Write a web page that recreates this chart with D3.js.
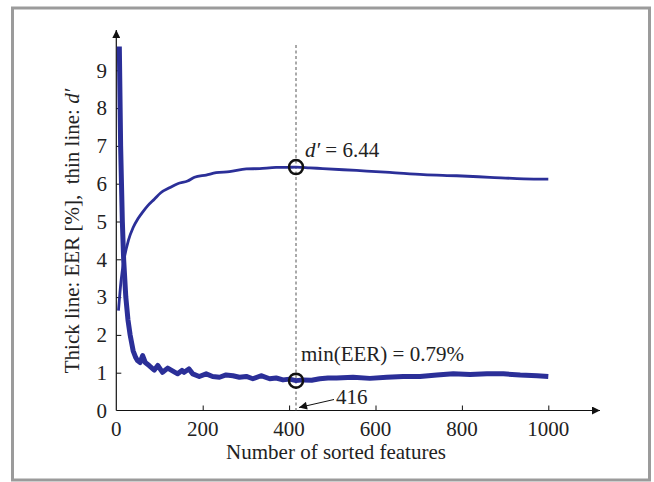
<!DOCTYPE html>
<html>
<head>
<meta charset="utf-8">
<script src="https://cdn.jsdelivr.net/npm/d3@7"></script>
<style>
  body { margin: 0; background: #fff; }
  text { font-family: "Liberation Serif", "Times New Roman", serif; fill: #222; }
</style>
</head>
<body>
<svg id="chart" width="654" height="482"></svg>
<script>
// EER curve (thick line)
const eerFeatures = [7, 10, 12, 14, 17, 22, 27, 32, 39, 45, 49, 55, 61, 67, 76, 88, 96, 107, 119, 131,
  142, 152, 157, 168, 177, 192, 208, 223, 239, 254, 270, 285, 301, 316, 335, 355, 370, 386, 401, 416,
  432, 452, 471, 490, 510, 548, 587, 626, 664, 703, 742, 780, 819, 858, 896, 935, 974, 1000];
const eerValues = [9.63, 7.0, 6.0, 5.0, 4.0, 3.0, 2.4, 2.0, 1.58, 1.4, 1.32, 1.27, 1.45, 1.27, 1.19, 1.07, 1.19, 1.01, 1.12, 1.04,
  0.97, 1.06, 1.01, 1.10, 0.97, 0.90, 0.97, 0.90, 0.88, 0.94, 0.92, 0.88, 0.90, 0.84, 0.92, 0.84, 0.86, 0.81, 0.83, 0.79,
  0.81, 0.80, 0.84, 0.86, 0.86, 0.88, 0.85, 0.88, 0.90, 0.90, 0.94, 0.97, 0.95, 0.97, 0.97, 0.94, 0.92, 0.90];

// d' curve (thin line)
const dFeatures = [5, 11, 18, 28, 39, 50, 61, 73, 88, 103, 123, 142, 165, 181, 208, 231, 262, 301, 332, 370,
  394, 416, 448, 478, 556, 633, 711, 788, 865, 943, 1000];
const dValues = [2.64, 3.43, 4.0, 4.5, 4.84, 5.07, 5.25, 5.42, 5.59, 5.76, 5.89, 6.0, 6.07, 6.17, 6.23, 6.29, 6.32, 6.39, 6.40, 6.43,
  6.43, 6.44, 6.42, 6.40, 6.35, 6.30, 6.24, 6.21, 6.17, 6.13, 6.12];

const xTicks = [0, 200, 400, 600, 800, 1000];
const yTicks = [0, 1, 2, 3, 4, 5, 6, 7, 8, 9];

// marked optimum
const bestFeature = 416;
const bestEER = 0.79;
const bestD = 6.44;

const svg = d3.select("#chart");
const blue = "#2b2f98";
const fontSize = "21px";

// outer grey frame
svg.append("rect")
  .attr("x", 12.5).attr("y", 8)
  .attr("width", 637).attr("height", 472)
  .attr("fill", "none")
  .attr("stroke", "#9b9b9b")
  .attr("stroke-width", 3);

const x = d3.scaleLinear().domain([0, 1000]).range([116.3, 548.3]);
const y = d3.scaleLinear().domain([0, 9]).range([410.5, 70.3]);

// arrow markers
const defs = svg.append("defs");
defs.append("marker")
  .attr("id", "arrow")
  .attr("viewBox", "0 0 10 10")
  .attr("refX", 10).attr("refY", 5)
  .attr("markerWidth", 10).attr("markerHeight", 8)
  .attr("markerUnits", "userSpaceOnUse")
  .attr("orient", "auto")
  .append("path")
  .attr("d", "M0,0L10,5L0,10Z")
  .attr("fill", "#111");

// axes lines
svg.append("line")
  .attr("x1", x(0)).attr("y1", y(0))
  .attr("x2", 600).attr("y2", y(0))
  .attr("stroke", "#111").attr("stroke-width", 1.2)
  .attr("marker-end", "url(#arrow)");
svg.append("line")
  .attr("x1", x(0)).attr("y1", y(0))
  .attr("x2", x(0)).attr("y2", 30)
  .attr("stroke", "#111").attr("stroke-width", 1.2)
  .attr("marker-end", "url(#arrow)");

// x ticks and labels
const xAxis = svg.append("g").attr("transform", `translate(0,${y(0)})`)
  .call(d3.axisTop(x).tickValues(xTicks).tickSize(5).tickFormat(""));
xAxis.select(".domain").remove();
xAxis.selectAll(".tick line").attr("stroke", "#111").filter((d) => d === 0).remove();

svg.append("g")
  .selectAll("text")
  .data(xTicks)
  .join("text")
  .attr("x", (d) => x(d))
  .attr("y", 436)
  .attr("text-anchor", "middle")
  .style("font-size", fontSize)
  .text((d) => d);

// y ticks and labels
const yAxis = svg.append("g").attr("transform", `translate(${x(0)},0)`)
  .call(d3.axisRight(y).tickValues(yTicks).tickSize(5).tickFormat(""));
yAxis.select(".domain").remove();
yAxis.selectAll(".tick line").attr("stroke", "#111").filter((d) => d === 0).remove();

svg.append("g")
  .selectAll("text")
  .data(yTicks)
  .join("text")
  .attr("x", 107)
  .attr("y", (d) => y(d))
  .attr("dy", "0.35em")
  .attr("text-anchor", "end")
  .style("font-size", fontSize)
  .text((d) => d);

// axis titles
svg.append("text")
  .attr("x", 336)
  .attr("y", 459)
  .attr("text-anchor", "middle")
  .style("font-size", fontSize)
  .text("Number of sorted features");

const yTitle = svg.append("text")
  .attr("transform", "translate(79,231) rotate(-90)")
  .attr("text-anchor", "middle")
  .style("font-size", fontSize);
yTitle.append("tspan").text("Thick line: EER [%],\u00a0 thin line: ");
yTitle.append("tspan").style("font-style", "italic").text("d\u2032");

// dashed marker line
svg.append("line")
  .attr("x1", x(bestFeature)).attr("x2", x(bestFeature))
  .attr("y1", 45).attr("y2", y(0))
  .attr("stroke", "#555")
  .attr("stroke-width", 1)
  .attr("stroke-dasharray", "3,2.5");

// curves
const lineD = d3.line()
  .curve(d3.curveMonotoneX)
  .x((d) => x(d[0]))
  .y((d) => y(d[1]));
const lineEER = d3.line()
  .x((d) => x(d[0]))
  .y((d) => y(d[1]));

svg.append("path")
  .datum(dFeatures.map((f, i) => [f, dValues[i]]))
  .attr("d", lineD)
  .attr("fill", "none")
  .attr("stroke", blue)
  .attr("stroke-width", 2.8)
  .attr("stroke-linejoin", "round");

svg.append("path")
  .datum(eerFeatures.map((f, i) => [f, eerValues[i]]))
  .attr("d", lineEER)
  .attr("fill", "none")
  .attr("stroke", blue)
  .attr("stroke-width", 5)
  .attr("stroke-linejoin", "round");

// circles at the optimum
svg.append("g")
  .selectAll("circle")
  .data([bestD, bestEER])
  .join("circle")
  .attr("cx", x(bestFeature))
  .attr("cy", (d) => y(d))
  .attr("r", 7)
  .attr("fill", "none")
  .attr("stroke", "#111")
  .attr("stroke-width", 2.5);

// annotations
const dLabel = svg.append("text")
  .attr("x", 305)
  .attr("y", 157)
  .style("font-size", fontSize);
dLabel.append("tspan").style("font-style", "italic").text("d\u2032");
dLabel.append("tspan").text(" = " + bestD.toFixed(2));

svg.append("text")
  .attr("x", 301)
  .attr("y", 361)
  .style("font-size", fontSize)
  .text(`min(EER) = ${bestEER.toFixed(2)}%`);

svg.append("text")
  .attr("x", 336)
  .attr("y", 404)
  .style("font-size", fontSize)
  .text(bestFeature);

svg.append("line")
  .attr("x1", 334).attr("y1", 399.5)
  .attr("x2", x(bestFeature) + 3).attr("y2", 407.5)
  .attr("stroke", "#111")
  .attr("stroke-width", 1)
  .attr("marker-end", "url(#arrow)");
</script>
</body>
</html>
